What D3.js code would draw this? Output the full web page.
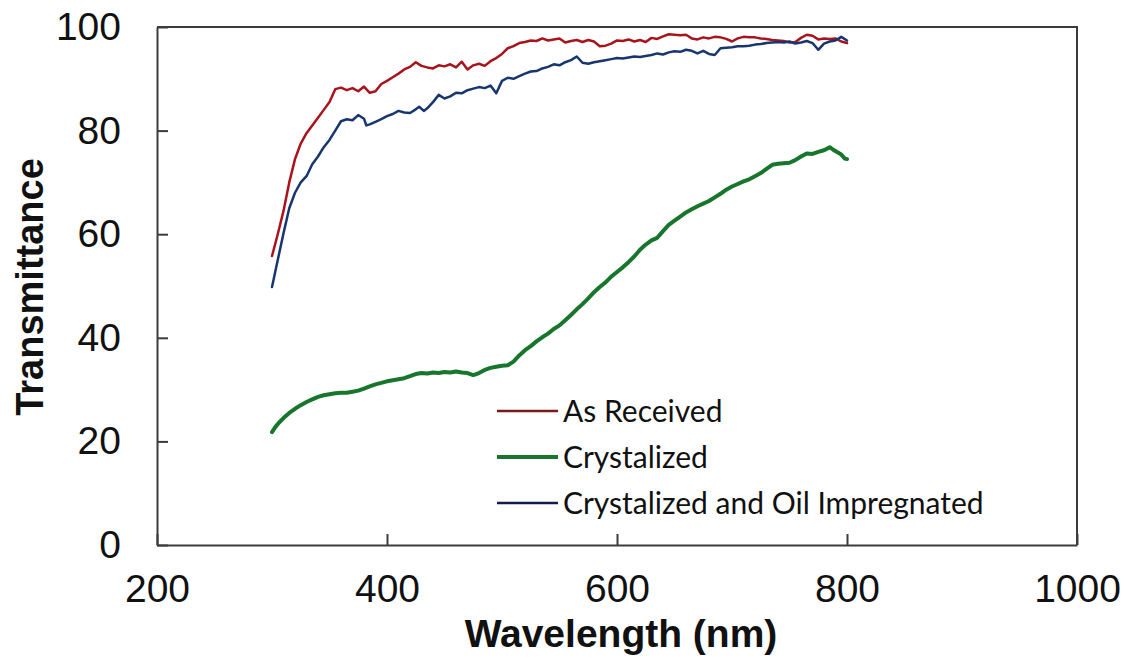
<!DOCTYPE html>
<html><head><meta charset="utf-8">
<script src="https://cdn.jsdelivr.net/npm/d3@7"></script>
<style>
html,body{margin:0;padding:0;background:#fff;}
svg{display:block;}
</style></head>
<body>
<svg id="chart" width="1124" height="667"></svg>
<script>
// ---- data ----
const seriesNames = ["As Received", "Crystalized", "Crystalized and Oil Impregnated"];

const wlReceived = [300,305,310,315,320,325,330,335,340,345,350,355,360,365,370,375,380,385,390,395,400,405,410,415,420,425,430,435,440,445,450,455,460,465,470,475,480,485,490,495,500,505,510,515,520,525,530,535,540,545,550,555,560,565,570,575,580,585,590,595,600,605,610,615,620,625,630,635,640,645,650,655,660,665,670,675,680,685,690,695,700,705,710,715,720,725,730,735,740,745,750,755,760,765,770,775,780,785,790,795,800];
const tReceived = [55.8,60,64.5,70,74.5,77.5,79.5,81,82.5,84,85.5,88,88.3,87.8,88.2,87.6,88.5,87.3,87.6,89,89.6,90.3,91,91.8,92.3,93.2,92.5,92.2,92,92.6,92.4,92.8,92.2,93.3,91.8,92.6,92.9,92.5,93.4,94,94.8,95.9,96.3,96.9,97.1,97.4,97.3,97.8,97.4,97.6,97.8,97.0,97.3,97.5,97.1,97.5,97.2,96.3,96.4,96.8,97.4,97.3,97.6,97.2,97.5,97.1,97.9,97.7,98.2,98.6,98.5,98.4,98.5,97.8,97.6,98.0,97.8,98.1,98.0,97.7,97.2,97.8,98.1,98.0,98.0,97.8,97.7,97.5,97.4,97.3,97.0,97.1,97.9,98.5,98.3,97.6,97.8,97.7,97.8,97.2,96.9];

const wlCrystal = [300,303,306,310,315,320,325,330,335,340,345,350,355,360,365,370,375,380,385,390,395,400,405,410,415,420,425,430,435,440,445,450,455,460,465,470,475,480,485,490,495,500,505,510,515,520,525,530,535,540,545,550,555,560,565,570,575,580,585,590,595,600,605,610,615,620,625,630,635,640,645,650,655,660,665,670,675,680,685,690,695,700,705,710,715,720,725,730,735,740,745,750,755,760,765,770,775,780,785,788,791,795,798,800];
const tCrystal = [21.8,22.8,23.6,24.5,25.5,26.3,27,27.6,28.1,28.6,28.9,29.1,29.3,29.4,29.4,29.6,29.8,30.2,30.6,31.0,31.3,31.6,31.8,32.0,32.2,32.6,33,33.2,33.1,33.3,33.2,33.4,33.3,33.5,33.3,33.2,32.8,33.2,33.8,34.2,34.4,34.6,34.7,35.4,36.6,37.6,38.4,39.3,40.1,40.8,41.7,42.4,43.4,44.4,45.5,46.5,47.6,48.8,49.8,50.7,51.8,52.7,53.6,54.6,55.7,57.0,58.0,58.8,59.3,60.6,61.8,62.6,63.4,64.2,64.8,65.4,65.9,66.4,67.1,67.8,68.6,69.2,69.7,70.2,70.6,71.2,71.8,72.6,73.4,73.6,73.7,73.8,74.3,75.0,75.6,75.5,75.9,76.2,76.8,76.3,75.9,75.4,74.6,74.5];

const wlOil = [300,305,310,315,320,325,330,335,340,345,350,355,360,365,370,375,380,382,385,390,395,400,405,410,415,420,425,428,432,435,440,445,450,455,460,465,470,475,480,485,490,495,500,505,510,515,520,525,530,535,540,545,550,555,560,565,570,575,580,585,590,595,600,605,610,615,620,625,630,635,640,645,650,655,660,665,670,675,680,685,690,695,700,705,710,715,720,725,730,735,740,745,750,755,760,765,770,775,780,785,790,795,800];
const tOil = [49.8,55,60.2,65,68,70,71.2,73.5,75,76.8,78.2,80,81.8,82.2,82,83,82.3,81,81.2,81.7,82.2,82.8,83.2,83.8,83.5,83.4,84.1,84.6,83.8,84.3,85.5,86.9,86.2,86.6,87.3,87.2,87.8,88.1,88.4,88.2,88.7,87.2,89.6,90.2,90,90.5,91,91.4,91.5,92,92.3,92.8,92.6,93.2,93.6,94.3,93.1,92.9,93.2,93.4,93.6,93.8,94.0,93.9,94.1,94.3,94.2,94.4,94.6,94.9,94.7,95.1,95.3,95.2,95.6,95.4,94.9,95.4,94.8,94.6,95.9,96.0,96.1,96.3,96.3,96.4,96.6,96.7,96.9,97.0,97.1,97.0,97.2,96.8,97.0,97.3,96.9,95.6,96.8,97.2,97.4,98.1,97.4];

const xTicks = [200,400,600,800,1000];
const yTicks = [0,20,40,60,80,100];
const xTitle = "Wavelength (nm)";
const yTitle = "Transmittance";

// ---- chart ----
const svg = d3.select("#chart");
const L = 157, R = 1077, T = 27, B = 545;
const x = d3.scaleLinear().domain([200,1000]).range([L,R]);
const y = d3.scaleLinear().domain([0,100]).range([B,T]);
const axisColor = "#3c3c3c";
const numFont = "'Liberation Sans', Arial, sans-serif";

const series = [
  {name: seriesNames[0], wl: wlReceived, t: tReceived, color: "#a8141c", legendColor: "#7a1a1a", width: 2.5},
  {name: seriesNames[1], wl: wlCrystal, t: tCrystal, color: "#17762c", legendColor: "#17762c", width: 4},
  {name: seriesNames[2], wl: wlOil, t: tOil, color: "#17366f", legendColor: "#141c4a", width: 2.5}
];

// frame (top & right)
svg.append("path")
  .attr("d", `M${L},${T}H${R}V${B}`)
  .attr("fill","none").attr("stroke",axisColor).attr("stroke-width",2);

const gx = svg.append("g").attr("transform",`translate(0,${B})`)
  .call(d3.axisBottom(x).tickValues(xTicks).tickSizeInner(-11).tickSizeOuter(0).tickPadding(29).tickFormat(d3.format("d")));
const gy = svg.append("g").attr("transform",`translate(${L},0)`)
  .call(d3.axisLeft(y).tickValues(yTicks).tickSizeInner(-11).tickSizeOuter(0).tickPadding(36).tickFormat(d3.format("d")));

[gx, gy].forEach(g => {
  g.select(".domain").attr("stroke",axisColor).attr("stroke-width",2);
  g.selectAll(".tick line").attr("stroke",axisColor).attr("stroke-width",2);
  g.selectAll(".tick text").attr("fill","#111").style("font-family",numFont).style("font-size","39px");
});

// lines
const line = d3.line().x(d => x(d[0])).y(d => y(d[1]));
series.forEach(s => {
  const pts = s.wl.map((w,i) => [w, s.t[i]]);
  svg.append("path").datum(pts)
    .attr("d", line)
    .attr("fill","none")
    .attr("stroke", s.color)
    .attr("stroke-width", s.width)
    .attr("stroke-linejoin","round")
    .attr("stroke-linecap","round");
});

// legend
const legend = svg.append("g").attr("transform","translate(497,411)");
series.forEach((s,i) => {
  const g = legend.append("g").attr("transform",`translate(0,${i*46})`);
  g.append("line").attr("x1",0).attr("x2",61).attr("y1",0).attr("y2",0)
    .attr("stroke", s.legendColor).attr("stroke-width", s.width);
  g.append("text").attr("x",66).attr("y",0).attr("dy","0.35em")
    .style("font-family","Lato, 'Open Sans', sans-serif").style("font-size","30px")
    .attr("fill","#111").text(s.name);
});

// titles
svg.append("text").attr("x",621).attr("y",647).attr("text-anchor","middle")
  .style("font-family",numFont).style("font-size","39px").style("font-weight","bold")
  .attr("fill","#111").text(xTitle);
svg.append("text").attr("transform","translate(43,287) rotate(-90)").attr("text-anchor","middle")
  .style("font-family",numFont).style("font-size","38px").style("font-weight","bold")
  .attr("fill","#111").text(yTitle);
</script>
</body></html>
